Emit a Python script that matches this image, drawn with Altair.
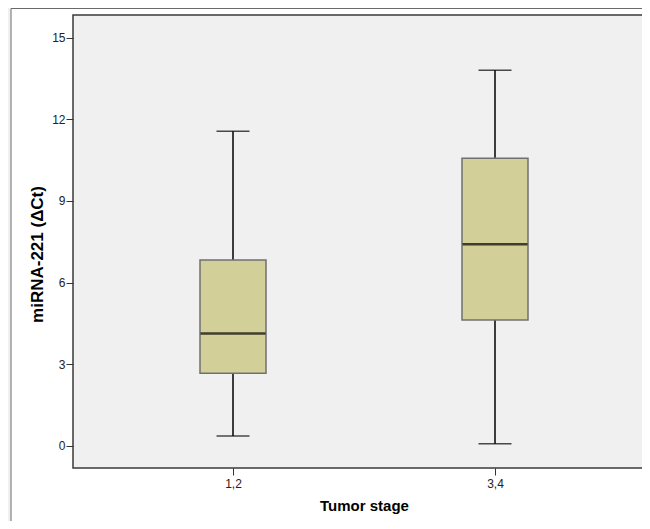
import altair as alt
import pandas as pd

# Box-plot summary values
stages = ["1,2", "3,4"]
lower_whisker = [0.37, 0.08]
q1 = [2.67, 4.63]
median = [4.13, 7.41]
q3 = [6.83, 10.57]
upper_whisker = [11.56, 13.80]
y_ticks = [0, 3, 6, 9, 12, 15]

df = pd.DataFrame({
    "stage": stages, "lower": lower_whisker, "q1": q1,
    "median": median, "q3": q3, "upper": upper_whisker,
})
one = pd.DataFrame({"a": [0]})

W, H = 569, 453
FONT = "Liberation Sans"

x_scale = alt.Scale(type="point", domain=stages, range=[160, 422], padding=0)
y_scale = alt.Scale(domain=[-0.81, 15.83], nice=False, zero=False)

x_axis = alt.Axis(
    title="Tumor stage", titleFont=FONT, titleFontSize=15, titleFontWeight="bold",
    titleColor="#000000", titlePadding=9, titleX=291,
    labelAngle=0, labelFont=FONT, labelFontSize=12, labelColor="#222222",
    labelPadding=3, tickSize=7, tickColor="#333333", tickWidth=1,
    domain=False, grid=False, zindex=1,
)
y_axis = alt.Axis(
    title="miRNA-221 (ΔCt)", titleFont=FONT, titleFontSize=17, titleFontWeight="bold",
    titleColor="#000000", titlePadding=5, titleY=239,
    values=y_ticks, labelFont=FONT, labelFontSize=12, labelColor="#222222",
    labelPadding=1, tickSize=7, tickColor="#333333", tickWidth=1,
    domain=False, grid=False, zindex=1,
)

def X():
    return alt.X("stage:N", scale=x_scale, axis=x_axis, sort=stages)

def Y(field):
    return alt.Y(f"{field}:Q", scale=y_scale, axis=y_axis)

frame = alt.Chart(one).mark_rect(fill="white", stroke="#6a6a6a", strokeWidth=1).encode(
    x=alt.value(-62), x2=alt.value(800), y=alt.value(-6.5), y2=alt.value(800)
)
plotbg = alt.Chart(one).mark_rect(fill="#f0f0f0", stroke="#3a3a3a", strokeWidth=1.5).encode(
    x=alt.value(0), x2=alt.value(W + 40), y=alt.value(0), y2=alt.value(H)
)

base = alt.Chart(df)
whisker = base.mark_rule(color="#000000", strokeWidth=1.5).encode(
    x=X(), y=Y("lower"), y2="upper:Q"
)
box = base.mark_bar(size=66, fill="#d3cf98", stroke="#707070", strokeWidth=1.5).encode(
    x=X(), y=Y("q1"), y2="q3:Q"
)
med = base.mark_tick(size=65, thickness=2.5, color="#000000").encode(x=X(), y=Y("median"))
cap_lo = base.mark_tick(size=33, thickness=1.5, color="#000000").encode(x=X(), y=Y("lower"))
cap_hi = base.mark_tick(size=33, thickness=1.5, color="#000000").encode(x=X(), y=Y("upper"))

chart = alt.layer(frame, plotbg, whisker, box, med, cap_lo, cap_hi).properties(
    width=W, height=H,
    autosize=alt.AutoSizeParams(type="none"),
    padding={"left": 65, "top": 7, "right": 0, "bottom": 53},
    background="#f0f0f0",
).configure_view(stroke=None)

chart.save("out.html", embed_options={"renderer": "svg", "actions": False})
